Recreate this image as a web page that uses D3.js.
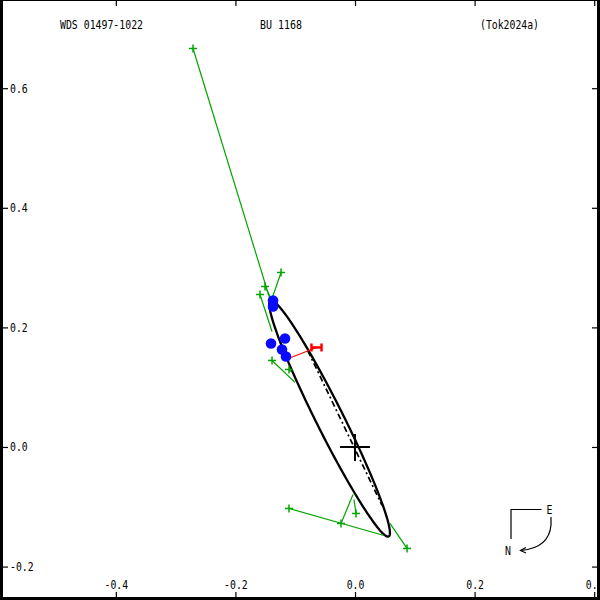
<!DOCTYPE html>
<html><head><meta charset="utf-8">
<script src="https://cdn.jsdelivr.net/npm/d3@7"></script>
<style>body{margin:0;background:#fff}svg{display:block}</style>
</head><body><svg id="c" width="600" height="600"></svg>
<script>
// ---- data ----
const titleLeft = "WDS 01497-1022";
const titleMid = "BU 1168";
const titleRight = "(Tok2024a)";
const xTicks = [-0.4, -0.2, 0.0, 0.2, 0.4];
const xTickLabels = ["-0.4", "-0.2", "0.0", "0.2", "0.4"];
const yTicks = [-0.2, 0.0, 0.2, 0.4, 0.6];
const yTickLabels = ["-0.2", "0.0", "0.2", "0.4", "0.6"];
// orbit ellipse: centre, semi-axes, tilt (deg)
const orbitCenter = [-0.0425, 0.0477];
const orbitAxes = [0.2207, 0.0228];
const orbitTilt = -63.4;
// line of nodes
const nodeLine = [[-0.0790, 0.1610], [0.0452, -0.0978]];
// green observations and their predicted positions
const greenObs = [[-0.2709, 0.6664], [-0.1505, 0.2684], [-0.1237, 0.2918], [-0.1589, 0.2550], [-0.1388, 0.1447], [-0.1104, 0.1296], [-0.1104, -0.1028], [-0.0234, -0.1279], [0.0017, -0.1112], [0.0870, -0.1697]];
const greenPred = [[-0.1421, 0.2467], [-0.1405, 0.2483], [-0.1388, 0.2483], [-0.1388, 0.1931], [-0.1003, 0.1080], [-0.1070, 0.1263], [0.0485, -0.1480], [-0.0033, -0.0794], [-0.0017, -0.0878], [0.0585, -0.1279]];
// blue observations
const blueObs = [[-0.1371, 0.2450], [-0.1371, 0.2349], [-0.1405, 0.1731], [-0.1171, 0.1814], [-0.1221, 0.1630], [-0.1154, 0.1513]];
// red observation (with error bar) and its predicted position
const redObs = [-0.0644, 0.1664];
const redPred = [-0.1070, 0.1497];
const redErr = 0.0084;

// ---- scales ----
const x = d3.scaleLinear().domain([-0.5937, 0.4097]).range([0, 600]);
const y = d3.scaleLinear().domain([-0.2559, 0.7475]).range([600, 0]);
const svg = d3.select("#c");
const FONT = "'DejaVu Sans Mono', monospace";

// ---- orbit ----
const phi = orbitTilt * Math.PI / 180;
const ell = d3.range(0, 361, 2).map(d => {
  const t = d * Math.PI / 180;
  const ex = orbitAxes[0] * Math.cos(t), ey = orbitAxes[1] * Math.sin(t);
  return [orbitCenter[0] + ex * Math.cos(phi) - ey * Math.sin(phi),
          orbitCenter[1] + ex * Math.sin(phi) + ey * Math.cos(phi)];
});
const line = d3.line().x(d => x(d[0])).y(d => y(d[1]));
svg.append("path").attr("d", line(ell)).attr("fill", "none")
  .attr("stroke", "#000").attr("stroke-width", 2.3).attr("stroke-linejoin", "round");

// line of nodes
svg.append("path").attr("d", line(nodeLine)).attr("fill", "none")
  .attr("stroke", "#000").attr("stroke-width", 1.7).attr("stroke-dasharray", "6,3,2,3");

// green residual lines and markers
const green = "#00a400";
svg.selectAll(".gl").data(greenObs).join("line")
  .attr("x1", d => x(d[0])).attr("y1", d => y(d[1]))
  .attr("x2", (d, i) => x(greenPred[i][0])).attr("y2", (d, i) => y(greenPred[i][1]))
  .attr("stroke", green).attr("stroke-width", 1.2);
const gm = svg.selectAll(".gm").data(greenObs).join("g")
  .attr("transform", d => `translate(${x(d[0])},${y(d[1])})`);
gm.append("line").attr("x1", -4).attr("x2", 4).attr("stroke", green).attr("stroke-width", 1.5);
gm.append("line").attr("y1", -4).attr("y2", 4).attr("stroke", green).attr("stroke-width", 1.5);

// blue points
svg.selectAll(".bp").data(blueObs).join("circle")
  .attr("cx", d => x(d[0])).attr("cy", d => y(d[1])).attr("r", 5.3).attr("fill", "#0a0aff");

// red residual & error bar
const red = "#ff0000";
svg.append("line").attr("x1", x(redPred[0])).attr("y1", y(redPred[1]))
  .attr("x2", x(redObs[0])).attr("y2", y(redObs[1])).attr("stroke", red).attr("stroke-width", 1.2);
svg.append("line").attr("x1", x(redObs[0] - redErr)).attr("x2", x(redObs[0] + redErr))
  .attr("y1", y(redObs[1])).attr("y2", y(redObs[1])).attr("stroke", red).attr("stroke-width", 2.5);
[-1, 1].forEach(s => svg.append("line")
  .attr("x1", x(redObs[0] + s * redErr)).attr("x2", x(redObs[0] + s * redErr))
  .attr("y1", y(redObs[1]) - 4).attr("y2", y(redObs[1]) + 4).attr("stroke", red).attr("stroke-width", 2.5));

// primary star cross
svg.append("line").attr("x1", x(0) - 15).attr("x2", x(0) + 15).attr("y1", y(0)).attr("y2", y(0))
  .attr("stroke", "#000").attr("stroke-width", 2);
svg.append("line").attr("x1", x(0)).attr("x2", x(0)).attr("y1", y(0) - 13).attr("y2", y(0) + 14)
  .attr("stroke", "#000").attr("stroke-width", 2);

// ---- compass ----
const cg = svg.append("g").attr("fill", "none").attr("stroke", "#000").attr("stroke-width", 1.2);
cg.append("path").attr("d", "M541.5,509.5 H511 V539");
cg.append("path").attr("d", "M551,517 V525 Q549,548 521,550.5");
cg.append("path").attr("d", "M526,547.5 L520.5,550.5 L526,553");
svg.append("text").attr("x", 549.5).attr("y", 513.5).attr("text-anchor", "middle")
  .attr("font-family", FONT).attr("font-size", 12).attr("textLength", 6).attr("lengthAdjust", "spacingAndGlyphs").text("E");
svg.append("text").attr("x", 508).attr("y", 554.5).attr("text-anchor", "middle")
  .attr("font-family", FONT).attr("font-size", 12).attr("textLength", 6).attr("lengthAdjust", "spacingAndGlyphs").text("N");

// ---- titles ----
function ttl(txt, xs, len) {
  svg.append("text").attr("x", xs).attr("y", 29).attr("font-family", FONT).attr("font-size", 12)
    .attr("textLength", len).attr("lengthAdjust", "spacingAndGlyphs").text(txt);
}
ttl(titleLeft, 60, 83);
ttl(titleMid, 260, 42);
ttl(titleRight, 480, 59);

// ---- axes ----
function styleAxis(g) {
  g.select(".domain").remove();
  g.selectAll(".tick line").attr("stroke", "#000").attr("stroke-width", 1.2);
  g.selectAll(".tick text").attr("font-family", FONT).attr("font-size", 12).attr("fill", "#000")
    .attr("lengthAdjust", "spacingAndGlyphs")
    .attr("textLength", function () { return this.textContent.length * 5.9; });
}
svg.append("g").attr("transform", "translate(3,0)")
  .call(d3.axisRight(y).tickValues(yTicks).tickSize(5).tickPadding(2)
    .tickFormat((d, i) => yTickLabels[i])).call(styleAxis);
svg.append("g").attr("transform", "translate(597,0)")
  .call(d3.axisLeft(y).tickValues(yTicks).tickSize(5).tickFormat("")).call(styleAxis);
svg.append("g").attr("transform", "translate(0,597)")
  .call(d3.axisTop(x).tickValues(xTicks).tickSize(5).tickPadding(3)
    .tickFormat((d, i) => xTickLabels[i])).call(styleAxis);
svg.append("g").attr("transform", "translate(0,1)")
  .call(d3.axisBottom(x).tickValues(xTicks).tickSize(5).tickFormat("")).call(styleAxis);

// ---- frame ----
svg.append("rect").attr("x", 0).attr("y", 0).attr("width", 3).attr("height", 600).attr("fill", "#000");
svg.append("rect").attr("x", 597).attr("y", 0).attr("width", 3).attr("height", 600).attr("fill", "#000");
svg.append("rect").attr("x", 0).attr("y", 597).attr("width", 600).attr("height", 3).attr("fill", "#000");
svg.append("rect").attr("x", 0).attr("y", 0).attr("width", 600).attr("height", 1).attr("fill", "#000");
</script></body></html>
